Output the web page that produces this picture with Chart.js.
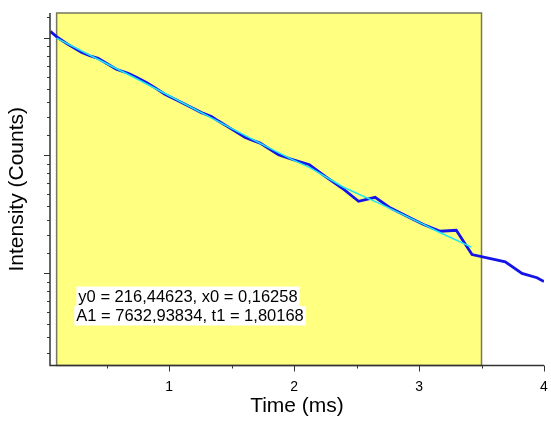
<!DOCTYPE html>
<html>
<head>
<meta charset="utf-8">
<script src="https://cdn.jsdelivr.net/npm/chart.js@4"></script>
<style>
  html, body { margin: 0; padding: 0; background: #fff; }
</style>
</head>
<body>
<canvas id="decayChart" width="551" height="423"></canvas>
<script>
var timeMs = [0.05, 0.111, 0.191, 0.298, 0.365, 0.432, 0.498, 0.578, 0.672, 0.738, 0.818, 0.886, 0.966,
              1.072, 1.179, 1.259, 1.339, 1.392, 1.488, 1.609, 1.728, 1.875, 1.969, 2.123, 2.249, 2.383,
              2.516, 2.649, 2.769, 2.903, 3.036, 3.170, 3.298, 3.424, 3.690, 3.824, 3.944, 4.0];
var counts = [8550, 8103, 7662, 7161, 6955, 6803, 6522, 6198, 5991, 5791, 5536, 5302, 5013,
              4739, 4477, 4289, 4150, 4000, 3760, 3472, 3310, 2997, 2897, 2753, 2493, 2260,
              2018, 2088, 1909, 1777, 1656, 1565, 1578, 1284, 1207, 1094, 1054, 1020];

// exponential fit curve as drawn (cyan)
var fitTime = [0.10, 0.43, 0.69, 0.99, 1.33, 1.73, 1.97, 2.13, 2.40, 2.69, 3.04, 3.17, 3.42];
var fitCounts = [8080, 6750, 5880, 4980, 4120, 3300, 2900, 2680, 2270, 1975, 1656, 1545, 1367];

var fitRange = [0.1, 3.5];
var fitText = ['y0 = 216,44623, x0 = 0,16258', 'A1 = 7632,93834, t1 = 1,80168'];

var xTickValues = [0.5, 1, 1.5, 2, 2.5, 3, 3.5, 4];
var xTickLabels = ['', '1', '', '2', '', '3', '', '4'];
// ln axis: major ticks at e^7, e^8, e^9
var yMajorTicks = [403.43, 1096.63, 2980.96, 8103.08, 22026.47];

var FONT = 'Arial, "Liberation Sans", sans-serif';

function toPoints(xs, ys) {
    return xs.map(function(x, i) { return { x: x, y: ys[i] }; });
}

var decorPlugin = {
    id: 'decor',
    beforeDatasetsDraw: function(chart) {
        var ctx = chart.ctx, a = chart.chartArea, xs = chart.scales.x;
        var x0 = xs.getPixelForValue(fitRange[0]);
        var x1 = xs.getPixelForValue(fitRange[1]);
        ctx.save();
        ctx.fillStyle = '#ffff80';
        ctx.fillRect(x0, a.top, x1 - x0, a.bottom - a.top);
        ctx.strokeStyle = '#77775f';
        ctx.lineWidth = 1.5;
        ctx.strokeRect(x0, a.top, x1 - x0, a.bottom - a.top);
        ctx.restore();
    },
    afterDatasetsDraw: function(chart) {
        var ctx = chart.ctx;
        ctx.save();
        ctx.font = '16.5px ' + FONT;
        ctx.textAlign = 'center';
        ctx.textBaseline = 'middle';
        var centers = [[188, 296], [190, 315.5]];
        fitText.forEach(function(t, i) {
            var w = ctx.measureText(t).width;
            ctx.fillStyle = '#fff';
            ctx.fillRect(centers[i][0] - w / 2 - 2, centers[i][1] - 9.5, w + 4, 19.5);
            ctx.fillStyle = '#000';
            ctx.fillText(t, centers[i][0], centers[i][1] + 1);
        });
        ctx.restore();
    },
    afterDraw: function(chart) {
        var ctx = chart.ctx, a = chart.chartArea;
        var xs = chart.scales.x, ys = chart.scales.y;
        ctx.save();
        ctx.strokeStyle = '#333';
        ctx.lineWidth = 1;
        ctx.beginPath();
        ys.ticks.forEach(function(t) {
            var py = Math.round(ys.getPixelForValue(t.value)) + 0.5;
            ctx.moveTo(a.left, py);
            ctx.lineTo(a.left - (t.major ? 6 : 3), py);
        });
        xs.ticks.forEach(function(t) {
            var px = Math.round(xs.getPixelForValue(t.value)) + 0.5;
            ctx.moveTo(px, a.bottom);
            ctx.lineTo(px, a.bottom + (t.major ? 6 : 3));
        });
        ctx.stroke();
        ctx.lineWidth = 1.5;
        ctx.beginPath();
        ctx.moveTo(a.left, a.top);
        ctx.lineTo(a.left, a.bottom);
        ctx.lineTo(a.right, a.bottom);
        ctx.stroke();
        ctx.restore();
    }
};

var ctx = document.getElementById('decayChart');
var decayChart = new Chart(ctx, {
    type: 'line',
    data: {
        datasets: [{
            label: 'Fit',
            data: toPoints(fitTime, fitCounts),
            borderColor: '#20e8f0',
            borderWidth: 1.5,
            pointRadius: 0,
            tension: 0
        }, {
            label: 'Intensity',
            data: toPoints(timeMs, counts),
            borderColor: '#1414e6',
            borderWidth: 2.8,
            pointRadius: 0,
            tension: 0
        }]
    },
    options: {
        responsive: false,
        animation: false,
        devicePixelRatio: 1,
        layout: { padding: { top: 13, right: 7, left: 0, bottom: 0 } },
        plugins: {
            legend: { display: false },
            tooltip: { enabled: false }
        },
        scales: {
            x: {
                type: 'linear',
                min: 0.047,
                max: 4,
                bounds: 'data',
                grid: { display: false, drawTicks: false },
                border: { display: false },
                afterBuildTicks: function(scale) {
                    scale.ticks = xTickValues.map(function(v, i) {
                        return { value: v, major: xTickLabels[i] !== '' };
                    });
                },
                afterFit: function(scale) {
                    scale.height = 57.5;
                    scale.paddingLeft = 0;
                    scale.paddingRight = 0;
                },
                ticks: {
                    autoSkip: false,
                    maxRotation: 0,
                    padding: 13,
                    color: '#000',
                    font: { family: FONT, size: 14 },
                    callback: function(value, index) { return xTickLabels[index]; }
                },
                title: {
                    display: true,
                    text: 'Time (ms)',
                    color: '#000',
                    font: { family: FONT, size: 21 },
                    padding: { top: 0, bottom: 4 }
                }
            },
            y: {
                type: 'logarithmic',
                min: 500,
                max: 10000,
                bounds: 'data',
                grid: { display: false, drawTicks: false },
                border: { display: false },
                afterBuildTicks: function(scale) {
                    var list = [];
                    for (var i = 0; i < yMajorTicks.length - 1; i++) {
                        var lo = yMajorTicks[i], hi = yMajorTicks[i + 1];
                        for (var k = 0; k < 9; k++) {
                            var v = lo + k * (hi - lo) / 9;
                            if (v >= scale.min && v <= scale.max) list.push({ value: v, major: k === 0 });
                        }
                    }
                    scale.ticks = list;
                },
                afterFit: function(scale) {
                    scale.width = 50;
                    scale.paddingTop = 0;
                    scale.paddingBottom = 0;
                },
                ticks: { display: false },
                title: {
                    display: true,
                    text: 'Intensity (Counts)',
                    color: '#000',
                    font: { family: FONT, size: 21 },
                    padding: { top: 5, bottom: 0 }
                }
            }
        }
    },
    plugins: [decorPlugin]
});
</script>
</body>
</html>
